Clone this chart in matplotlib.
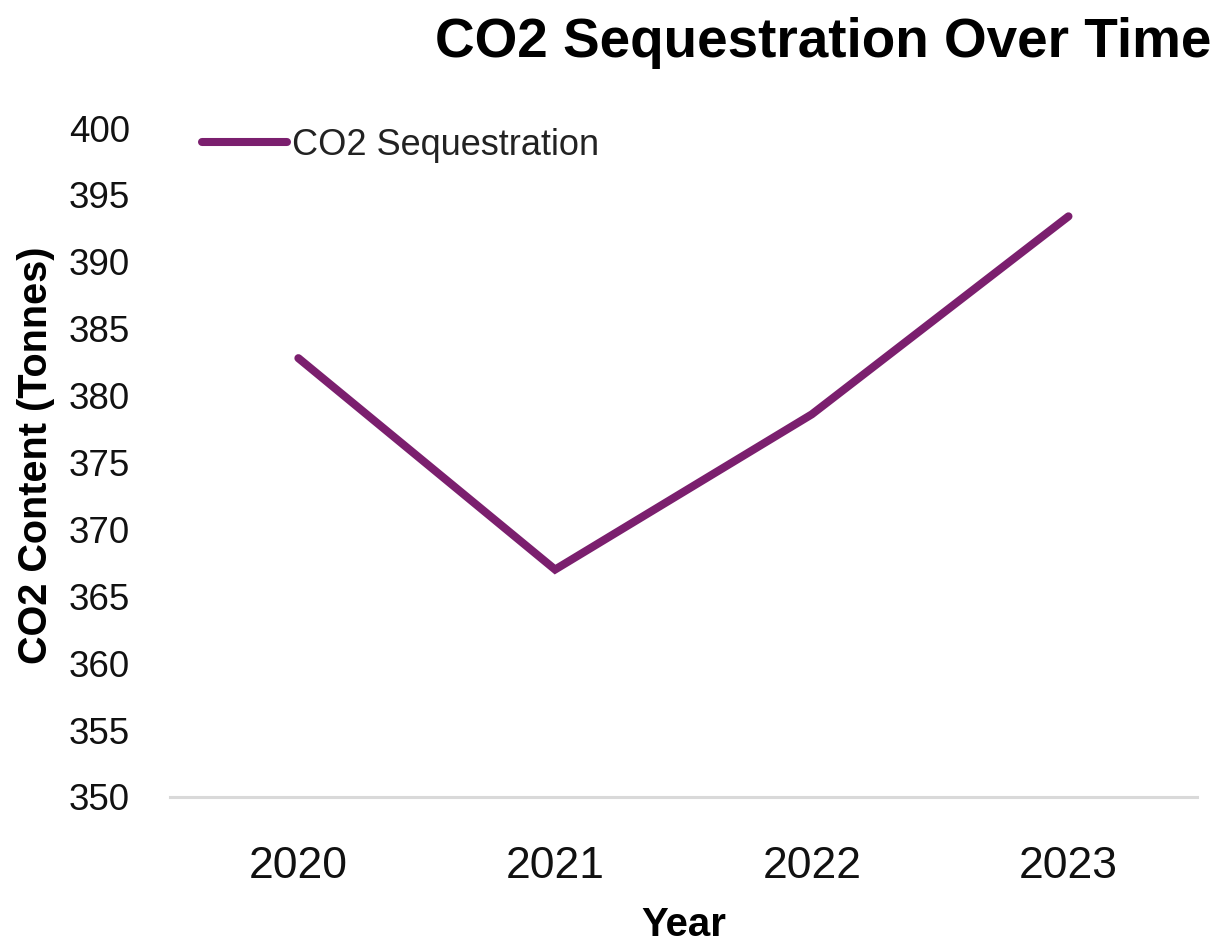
import matplotlib
matplotlib.use("Agg")
import matplotlib.pyplot as plt

years = ["2020", "2021", "2022", "2023"]
co2_tonnes = [382.8, 367.0, 378.6, 393.4]
y_ticks = [350, 355, 360, 365, 370, 375, 380, 385, 390, 395, 400]

line_color = "#7B1F6E"
font = "Liberation Sans"

fig = plt.figure(figsize=(12.25, 9.47), dpi=100)
ax = fig.add_axes([0.1388, 0.1584, 0.977 - 0.1388, 0.8648 - 0.1584])

x = list(range(len(years)))
ax.plot(x, co2_tonnes, color=line_color, linewidth=5.8,
        solid_capstyle="round", solid_joinstyle="miter", label="CO2 Sequestration")

ax.set_xlim(-0.5, len(years) - 0.5)
ax.set_ylim(y_ticks[0], y_ticks[-1])
ax.set_yticks(y_ticks)
ax.set_xticks(x)
ax.set_xticklabels(years)

for s in ["top", "right", "left"]:
    ax.spines[s].set_visible(False)
ax.spines["bottom"].set_color("#D9D9D9")
ax.spines["bottom"].set_linewidth(2.2)
ax.tick_params(axis="both", length=0)
ax.tick_params(axis="y", pad=29)
ax.tick_params(axis="x", pad=35)
for lbl in ax.get_yticklabels():
    lbl.set_fontfamily(font)
    lbl.set_fontsize(26.5)
    lbl.set_color("#111111")
for lbl in ax.get_xticklabels():
    lbl.set_fontfamily(font)
    lbl.set_fontsize(32)
    lbl.set_color("#111111")

ax.set_xlabel("Year", fontsize=29, fontweight="bold", family=font, va="baseline")
ax.xaxis.set_label_coords(0.5, -0.2085)
ax.set_ylabel("CO2 Content (Tonnes)", fontsize=28.5, fontweight="bold", family=font, va="center")
ax.yaxis.set_label_coords(-0.131, 0.511)

fig.text(0.989, 1 - 57 / 947, "CO2 Sequestration Over Time", ha="right", va="baseline",
         fontsize=39.5, fontweight="bold", family=font)

leg = ax.legend(loc="center left", bbox_to_anchor=(0.031, 1 - (145 - 128) / 669), frameon=False,
                handlelength=2.35, handletextpad=0.15, borderaxespad=0.0, borderpad=0.0,
                prop={"family": font, "size": 26})
for t in leg.get_texts():
    t.set_color("#222222")

fig.savefig("out.png", dpi=100, facecolor="white")
